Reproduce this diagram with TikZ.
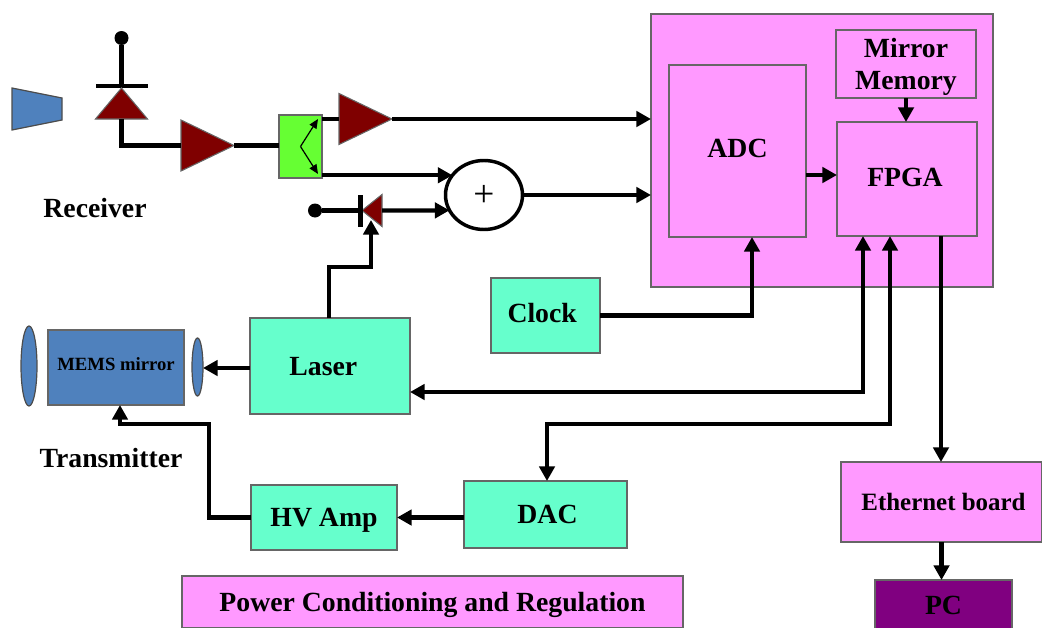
\documentclass[tikz,border=0pt]{standalone}
\usepackage{fontspec}
\setmainfont{Liberation Serif}
\usepackage{tikz}
\usetikzlibrary{shapes.geometric,arrows.meta,calc}
\definecolor{pinkbox}{HTML}{FF99FF}
\definecolor{aquabox}{HTML}{66FFCC}
\definecolor{bluebox}{HTML}{4F81BD}
\definecolor{greenbox}{HTML}{66FF33}
\definecolor{purplebox}{HTML}{800080}
\definecolor{ampred}{HTML}{7F0000}
\definecolor{edgegray}{HTML}{666666}
\def\px{0.75pt}
\tikzset{
    block/.style={draw=edgegray, line width=0.8pt, rectangle, inner sep=0pt, outer sep=0pt, align=center, text height=14pt, text depth=0pt, font=\fontsize{20.8}{24}\selectfont\bfseries},
    pinkblock/.style={block, fill=pinkbox},
    aquablock/.style={block, fill=aquabox},
    amp/.style={draw=edgegray, line width=0.8pt, fill=ampred, isosceles triangle, isosceles triangle stretches, inner sep=0pt, outer sep=0pt},
    lens/.style={draw=black!70, line width=0.9pt, fill=bluebox, ellipse, inner sep=0pt, outer sep=0pt},
    bar/.style={fill=black, inner sep=0pt, outer sep=0pt},
    dot/.style={fill=black, circle, inner sep=0pt, outer sep=0pt, minimum size=10.5pt},
    wire/.style={line width=3.2pt},
    link/.style={wire, -{Triangle[length=11pt,width=11.5pt]}},
    twolink/.style={wire, {Triangle[length=11pt,width=11.5pt]}-{Triangle[length=11pt,width=11.5pt]}},
    thinlink/.style={line width=0.9pt, -{Triangle[length=7pt,width=6pt]}},
    caption/.style={inner sep=0pt, font=\fontsize{20.8}{25}\selectfont\bfseries}
}
\begin{document}
\begin{tikzpicture}[x=0.75pt,y=-0.75pt]
        \useasboundingbox (0,0) rectangle (1042,628);

        % digital side
        \node[pinkblock, minimum width=342*\px, minimum height=273*\px] (dsp) at (822,150.5) {};
        \node[pinkblock, text depth=4pt, minimum width=137*\px, minimum height=172*\px] (adc) at (737.5,151) {ADC};
        \node[pinkblock, text depth=3pt, minimum width=140*\px, minimum height=114*\px] (fpga) at (907,179) {FPGA\hspace*{3pt}};
        \node[pinkblock, text height={}, text depth={}, minimum width=140*\px, minimum height=68*\px] (memory) at (906,64) {\rule{0pt}{19pt}Mirror\\Memory};
        \node[pinkblock, text height=12.4pt, minimum width=201*\px, minimum height=80*\px, font=\fontsize{18.7}{22}\selectfont\bfseries] (ethernet) at (941.5,502) {\hspace*{3pt}Ethernet board};
        \node[block, fill=purplebox, minimum width=137*\px, minimum height=50*\px] (pc) at (943.5,605) {PC};
        \node[pinkblock, minimum width=501*\px, minimum height=52*\px] (power) at (432.5,602) {Power Conditioning and Regulation};

        % analog boxes
        \node[aquablock, text depth=4pt, minimum width=109*\px, minimum height=75*\px] (clock) at (545.5,315.5) {Clock\hspace*{5pt}};
        \node[aquablock, minimum width=160*\px, minimum height=96*\px] (laser) at (330,366) {Laser\hspace*{10pt}};
        \node[aquablock, minimum width=146*\px, minimum height=65*\px] (hvamp) at (324,517.5) {HV Amp};
        \node[aquablock, minimum width=163*\px, minimum height=67*\px] (dac) at (545.5,514.5) {\hspace*{3pt}DAC};
        \node[block, fill=bluebox, text height=9.2pt, text depth=5pt, minimum width=136*\px, minimum height=75*\px, font=\fontsize{14}{17}\selectfont\bfseries] (mems) at (116,367.5) {MEMS mirror};
        \node[lens, minimum width=16*\px, minimum height=80*\px] (lensleft) at (29,366) {};
        \node[lens, minimum width=11*\px, minimum height=58*\px] (lensright) at (197.5,367) {};

        % receiver front end
        \draw[draw=black!70, line width=0.9pt, fill=bluebox] (12,88) -- (62,98) -- (62,120) -- (12,130) -- cycle;
        \node[bar, minimum width=52*\px, minimum height=4*\px] (diodebar) at (121.5,86) {};
        \node[amp, rotate=90, minimum width=52*\px, minimum height=31*\px, anchor=lower side] (diode) at (121.5,119) {};
        \node[dot] (diodedot) at (121.5,38) {};
        \node[amp, minimum width=51*\px, minimum height=53*\px, anchor=lower side] (ampone) at (181,145.5) {};
        \node[draw=edgegray, line width=0.8pt, fill=greenbox, rectangle, inner sep=0pt, outer sep=0pt, minimum width=43*\px, minimum height=63*\px] (split) at (300.5,146.5) {};
        \node[amp, minimum width=51*\px, minimum height=53*\px, anchor=lower side] (amptwo) at (339,119) {};
        \node[draw=black, line width=2.6pt, fill=white, ellipse, inner sep=0pt, outer sep=0pt, minimum width=77*\px, minimum height=69*\px, text height=17pt, text depth=0pt, font=\fontsize{28}{28}\selectfont] (sum) at (484,195) {+};
        \node[amp, rotate=180, minimum width=32*\px, minimum height=20*\px, anchor=lower side] (refdiode) at (382,210.5) {};
        \node[bar, minimum width=5*\px, minimum height=32*\px] (refbar) at (360,210.5) {};
        \node[dot] (refdot) at (315,210.5) {};

        \node[caption] (receiver) at (95,208.5) {Receiver};
        \node[caption] (transmitter) at (111,458.5) {Transmitter};

        % receive path
        \draw[wire] (diodedot) -- (diodebar);
        \draw[wire] (diode.lower side) |- (ampone.lower side);
        \draw[wire] (ampone.apex) -- (ampone.apex -| split.west);
        \draw[wire] (amptwo.lower side) -- (amptwo.lower side -| split.east);
        \draw[thinlink] (split.center) -- ([shift={(-4*\px,-4*\px)}]split.north east);
        \draw[thinlink] (split.center) -- ([shift={(-4*\px,4*\px)}]split.south east);
        \draw[link] (amptwo.apex) -- (amptwo.apex -| dsp.west);
        \draw[link] (sum.148 -| split.east) -- (sum.148);
        \draw[wire] (refdot) -- (refbar);
        \draw[link] (refdiode.lower side) -- (sum.204);
        \draw[link] (sum.east) -- (sum.east -| dsp.west);

        % laser and clock
        \draw[link] ([xshift=-1*\px]laser.north) -- ++(0,51*\px) -- ++(42*\px,0) -- ++(0,47*\px);
        \draw[link] (clock.east) -| ([xshift=14.5*\px]adc.south);
        \draw[link] ([yshift=-24*\px]adc.east) -- ([yshift=-24*\px]adc.east -| fpga.west);
        \draw[link] (memory.south) -- (memory.south |- fpga.north);
        \draw[link] ([yshift=-2*\px]laser.west) -- ([yshift=-2*\px]laser.west -| lensright.east);

        % FPGA links
        \draw[twolink] ([xshift=-44*\px]fpga.south) |- ([yshift=-26*\px]laser.east);
        \draw[twolink] ([xshift=-17*\px]fpga.south) |- (547,424) -- ([xshift=1.5*\px]dac.north);
        \draw[link] ([xshift=34*\px]fpga.south) -- ([xshift=34*\px]fpga.south |- ethernet.north);
        \draw[link] (ethernet.south) -- (ethernet.south |- pc.north);

        % transmit path
        \draw[link] (hvamp.east -| dac.west) -- (hvamp.east);
        \draw[link] (hvamp.west) -| (209,424) -| ([xshift=4*\px]mems.south);
\end{tikzpicture}
\end{document}
